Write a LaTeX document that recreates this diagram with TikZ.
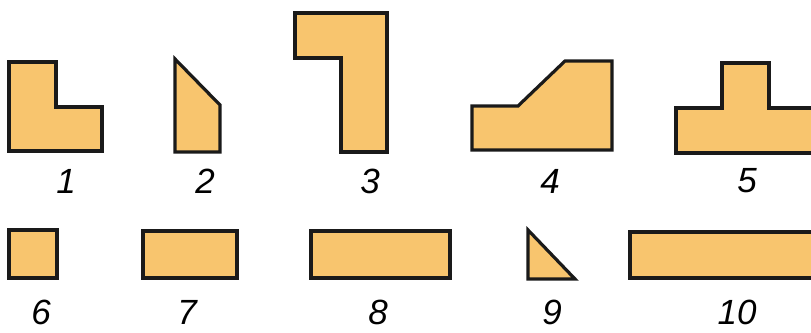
\documentclass[tikz,border=0pt]{standalone}
\usepackage{fontspec}
\setmainfont{Liberation Sans}
\definecolor{partfill}{HTML}{F8C56E}
\definecolor{partline}{HTML}{1A1A1A}
\tikzset{
  part/.style={fill=partfill,draw=partline,line width=3.2pt,line join=miter},
  lbl/.style={font=\fontsize{35}{35}\selectfont\itshape,text=black,inner sep=0pt}
}
\begin{document}
\begin{tikzpicture}[x=1pt,y=-1pt]
\useasboundingbox (0,0) rectangle (811,332);
\clip (0,0) rectangle (811,332);
% row 1
\draw[part] (9,62) -- (56,62) -- (56,107) -- (102,107) -- (102,151) -- (9,151) -- cycle;
\draw[part] (175,59) -- (220,105) -- (220,152) -- (175,152) -- cycle;
\draw[part] (295,13) -- (387,13) -- (387,152) -- (341,152) -- (341,58) -- (295,58) -- cycle;
\draw[part] (472,106) -- (518,106) -- (565,61) -- (612,61) -- (612,150) -- (472,150) -- cycle;
\draw[part] (676,108) -- (722,108) -- (722,63) -- (769,63) -- (769,108) -- (830,108) -- (830,153) -- (676,153) -- cycle;
% row 2
\draw[part] (9,230) rectangle (57,278);
\draw[part] (143,231) rectangle (237,278);
\draw[part] (311,231) rectangle (450,278);
\draw[part] (528,230) -- (575,279) -- (528,279) -- cycle;
\draw[part] (630,232) rectangle (830,278);
% labels
\node[lbl] (l1) at (66,181) {1};
\node[lbl] (l2) at (205,181) {2};
\node[lbl] (l3) at (370,181) {3};
\node[lbl] (l4) at (550,181) {4};
\node[lbl] (l5) at (747,181) {5};
\node[lbl] (l6) at (41,312) {6};
\node[lbl] (l7) at (187,312) {7};
\node[lbl] (l8) at (378,312) {8};
\node[lbl] (l9) at (552,312) {9};
\node[lbl] (l10) at (737,312) {10};
\end{tikzpicture}
\end{document}
